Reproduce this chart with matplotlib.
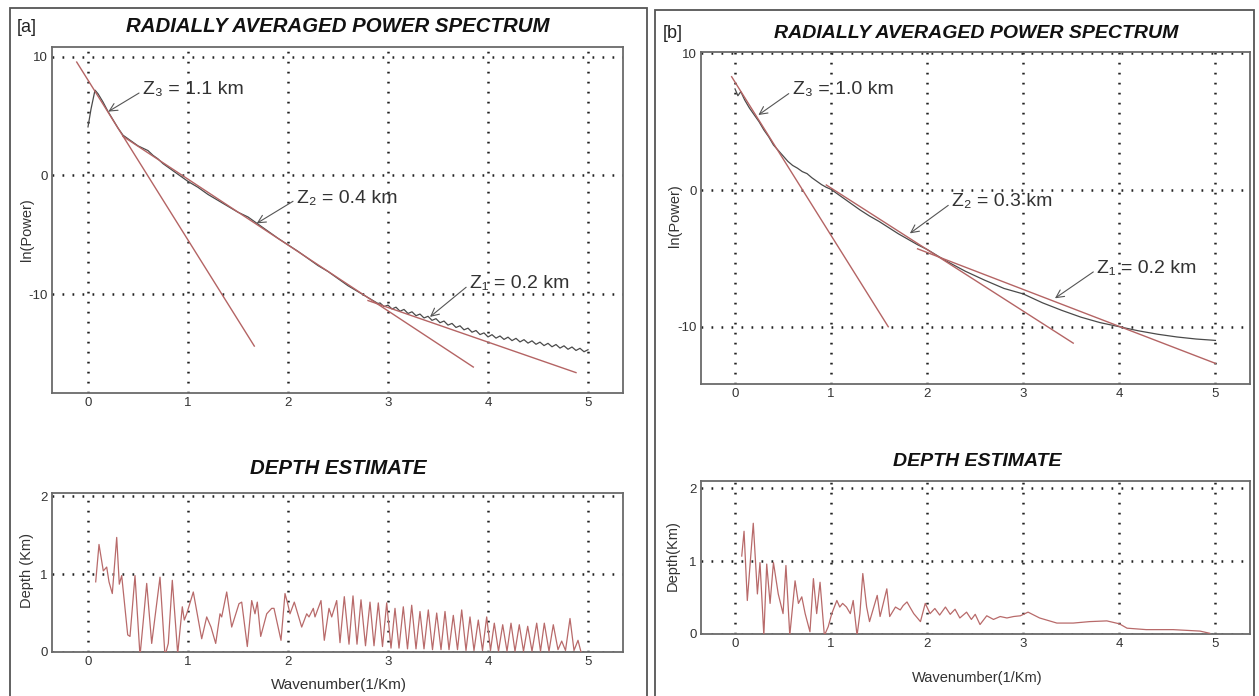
import matplotlib
matplotlib.use("Agg")
import matplotlib.pyplot as plt
from matplotlib.patches import Rectangle

plt.rcParams['font.family'] = ['Liberation Sans', 'DejaVu Sans']
plt.rcParams['axes.unicode_minus'] = False

# ---- panel [a] : radially averaged power spectrum ----
k_a = [0.00, 0.03, 0.07, 0.10, 0.15, 0.20, 0.25, 0.30, 0.35, 0.40, 0.45, 0.50,
       0.55, 0.60, 0.65, 0.70, 0.75, 0.80, 0.85, 0.90, 1.00, 1.10, 1.20, 1.30,
       1.40, 1.50, 1.60, 1.70, 1.80, 1.90, 2.00, 2.10, 2.20, 2.30, 2.40, 2.50,
       2.60, 2.70, 2.80, 2.90, 2.92, 2.96, 3.00, 3.04, 3.08, 3.12, 3.16, 3.20,
       3.24, 3.28, 3.32, 3.36, 3.40, 3.44, 3.48, 3.52, 3.56, 3.60, 3.64, 3.68,
       3.72, 3.76, 3.80, 3.84, 3.88, 3.92, 3.96, 4.00, 4.04, 4.08, 4.12, 4.16,
       4.20, 4.24, 4.28, 4.32, 4.36, 4.40, 4.44, 4.48, 4.52, 4.56, 4.60, 4.64,
       4.68, 4.72, 4.76, 4.80, 4.84, 4.88, 4.92, 4.96, 5.00]
lnp_a = [4.1, 5.6, 7.2, 6.9, 6.2, 5.4, 4.7, 4.0, 3.4, 3.1, 2.8, 2.5,
         2.3, 2.1, 1.7, 1.4, 1.0, 0.7, 0.4, 0.1, -0.5, -1.0, -1.6, -2.1,
         -2.6, -3.1, -3.5, -4.1, -4.7, -5.3, -5.85, -6.4, -7.0, -7.6, -8.1, -8.7,
         -9.3, -9.8, -10.3, -10.8, -10.75, -11.06, -10.94, -11.26, -11.11, -11.45, -11.30, -11.64,
         -11.50, -11.83, -11.69, -12.02, -11.88, -12.22, -12.08, -12.42, -12.28, -12.62, -12.48, -12.82,
         -12.68, -13.02, -12.88, -13.22, -13.08, -13.42, -13.28, -13.62, -13.43, -13.72, -13.54, -13.83,
         -13.64, -13.93, -13.74, -14.04, -13.85, -14.14, -13.95, -14.24, -14.06, -14.35, -14.16, -14.45,
         -14.26, -14.56, -14.37, -14.66, -14.47, -14.76, -14.58, -14.87, -14.70]

# straight-line fits: (k start, lnP start, k end, lnP end)
fits_a = [(-0.113, 9.57, 1.663, -14.39),
          (0.35, 3.30, 3.853, -16.16),
          (2.80, -10.55, 4.88, -16.63)]
depth_labels_a = ['Z\u2083 = 1.1 km', 'Z\u2082 = 0.4 km', 'Z\u2081 = 0.2 km']
label_pos_a = [(0.55, 7.23), (2.09, -1.90), (3.82, -9.09)]
arrow_tip_a = [(0.203, 5.39), (1.687, -4.04), (3.42, -11.93)]

k_depth_a = [0.077, 0.11, 0.153, 0.187, 0.21, 0.243, 0.287, 0.313, 0.337, 0.397,
             0.42, 0.47, 0.52, 0.55, 0.587, 0.637, 0.72, 0.77, 0.803, 0.843,
             0.897, 0.943, 0.963, 0.987, 1.053, 1.137, 1.187, 1.23, 1.277, 1.32,
             1.337, 1.387, 1.437, 1.51, 1.537, 1.593, 1.637, 1.67, 1.693, 1.727,
             1.787, 1.837, 1.86, 1.93, 1.97, 1.997, 2.02, 2.063, 2.137, 2.187,
             2.21, 2.253, 2.27, 2.33, 2.363, 2.41, 2.437, 2.487, 2.52, 2.563,
             2.61, 2.65, 2.69, 2.73, 2.775, 2.82, 2.86, 2.903, 2.945, 2.987,
             3.03, 3.07, 3.11, 3.153, 3.195, 3.237, 3.28, 3.32, 3.36, 3.403,
             3.445, 3.487, 3.53, 3.57, 3.61, 3.653, 3.695, 3.737, 3.78, 3.82,
             3.86, 3.903, 3.945, 3.987, 4.025, 4.063, 4.105, 4.147, 4.19, 4.23,
             4.27, 4.313, 4.355, 4.397, 4.44, 4.487, 4.525, 4.563, 4.61, 4.653,
             4.70, 4.737, 4.775, 4.82, 4.86, 4.90, 4.93]
depth_a = [0.90, 1.38, 1.04, 1.09, 0.90, 0.75, 1.47, 0.87, 0.98, 0.22,
           0.20, 0.98, -0.05, 0.36, 0.88, 0.11, 0.96, -0.05, 0.11, 0.92,
           -0.02, 0.58, 0.41, 0.49, 0.77, 0.17, 0.45, 0.32, 0.11, 0.49,
           0.45, 0.77, 0.32, 0.62, 0.64, 0.07, 0.66, 0.49, 0.64, 0.20,
           0.49, 0.56, 0.56, 0.15, 0.75, 0.62, 0.49, 0.64, 0.32, 0.49,
           0.45, 0.56, 0.45, 0.66, 0.15, 0.56, 0.45, 0.66, 0.12, 0.71,
           0.10, 0.72, 0.10, 0.67, 0.08, 0.64, 0.08, 0.63, 0.07, 0.63,
           0.05, 0.56, 0.05, 0.58, 0.04, 0.60, 0.04, 0.52, 0.04, 0.54,
           0.03, 0.50, 0.03, 0.52, 0.03, 0.47, 0.03, 0.54, 0.02, 0.45,
           0.02, 0.41, 0.02, 0.45, 0.02, 0.37, 0.01, 0.35, 0.01, 0.37,
           0.01, 0.35, 0.01, 0.33, 0.01, 0.37, 0.01, 0.37, 0.01, 0.35,
           0.03, 0.14, 0.02, 0.43, 0.02, 0.15, 0.00]

# ---- panel [b] ----
k_b = [0.00, 0.03, 0.06, 0.10, 0.15, 0.20, 0.25, 0.30, 0.35, 0.40, 0.45, 0.50,
       0.55, 0.60, 0.65, 0.70, 0.75, 0.80, 0.85, 0.90, 0.95, 1.00, 1.10, 1.20,
       1.30, 1.40, 1.50, 1.60, 1.70, 1.80, 1.90, 2.00, 2.20, 2.40, 2.60, 2.80,
       3.00, 3.20, 3.40, 3.60, 3.80, 4.00, 4.20, 4.40, 4.60, 4.80, 5.00]
lnp_b = [7.4, 6.9, 7.2, 6.6, 6.0, 5.5, 5.0, 4.4, 3.9, 3.3, 2.9, 2.5,
         2.1, 1.8, 1.6, 1.35, 1.2, 0.9, 0.65, 0.4, 0.2, 0.05, -0.45, -0.95,
         -1.45, -1.9, -2.3, -2.75, -3.2, -3.6, -4.0, -4.35, -5.2, -5.95, -6.6, -7.2,
         -7.6, -8.25, -8.8, -9.3, -9.7, -10.0, -10.3, -10.55, -10.75, -10.9, -11.0]

fits_b = [(-0.035, 8.29, 1.595, -10.0),
          (0.95, 0.37, 3.52, -11.2),
          (1.90, -4.30, 5.00, -12.68)]
depth_labels_b = ['Z\u2083 = 1.0 km', 'Z\u2082 = 0.3 km', 'Z\u2081 = 0.2 km']
label_pos_b = [(0.60, 7.32), (2.26, -0.85), (3.77, -5.73)]
arrow_tip_b = [(0.243, 5.49), (1.82, -3.17), (3.33, -7.92)]

k_depth_b = [0.07, 0.094, 0.128, 0.19, 0.233, 0.26, 0.30, 0.33, 0.365, 0.40,
             0.45, 0.50, 0.53, 0.57, 0.625, 0.66, 0.695, 0.73, 0.78, 0.816,
             0.85, 0.885, 0.93, 0.97, 1.007, 1.06, 1.09, 1.12, 1.16, 1.20,
             1.23, 1.27, 1.30, 1.33, 1.37, 1.40, 1.48, 1.51, 1.58, 1.61,
             1.67, 1.72, 1.75, 1.79, 1.82, 1.86, 1.93, 1.98, 2.03, 2.08,
             2.13, 2.19, 2.24, 2.29, 2.34, 2.41, 2.46, 2.50, 2.55, 2.62,
             2.69, 2.76, 2.83, 2.90, 2.97, 3.05, 3.17, 3.35, 3.52, 3.69,
             3.87, 4.00, 4.08, 4.28, 4.56, 4.84, 4.94]
depth_b = [1.07, 1.41, 0.46, 1.52, 0.55, 0.98, -0.02, 0.96, 0.42, 0.98,
           0.55, 0.28, 0.94, -0.02, 0.73, 0.42, 0.51, 0.28, 0.03, 0.76,
           0.28, 0.71, -0.02, 0.10, 0.28, 0.46, 0.37, 0.42, 0.37, 0.28,
           0.46, -0.02, 0.28, 0.83, 0.37, 0.17, 0.53, 0.24, 0.62, 0.24,
           0.37, 0.33, 0.39, 0.44, 0.37, 0.28, 0.17, 0.42, 0.28, 0.35,
           0.26, 0.37, 0.27, 0.34, 0.22, 0.30, 0.20, 0.27, 0.13, 0.25,
           0.20, 0.24, 0.22, 0.24, 0.25, 0.30, 0.22, 0.15, 0.15, 0.17,
           0.18, 0.14, 0.08, 0.06, 0.06, 0.04, 0.01]

OBS = '#4a4a4a'
FIT = '#b46464'
DEP = '#b86a6a'
TXT = '#333333'

W, H = 1259, 696
fig = plt.figure(figsize=(W / 100, H / 100), dpi=100)


def px_rect(l, t, r, b):
    return [l / W, 1 - b / H, (r - l) / W, (b - t) / H]


def style(ax, xlim, ylim, yticks):
    ax.set_xlim(*xlim)
    ax.set_ylim(*ylim)
    ax.set_xticks([0, 1, 2, 3, 4, 5])
    ax.set_yticks(yticks)
    ax.grid(True, color='#222222', linestyle=(0, (0.7, 3.3)), linewidth=1.8)
    ax.tick_params(length=0, labelsize=9.5, colors=TXT, pad=3)
    for s in ax.spines.values():
        s.set_color('#6a6a6a')
        s.set_linewidth(1.3)


def spectrum_panel(rect, k, lnp, fits, labels, lpos, tips, xlim, ylim, fs):
    ax = fig.add_axes(rect)
    style(ax, xlim, ylim, [-10, 0, 10])
    ax.plot(k, lnp, color=OBS, lw=0.9, zorder=3)
    for k0, y0, k1, y1 in fits:
        ax.plot([k0, k1], [y0, y1], color=FIT, lw=1.0, zorder=4)
    for txt, p, tip in zip(labels, lpos, tips):
        ax.annotate(txt, xy=tip, xytext=p, ha='left', va='center',
                    fontsize=fs, color=TXT, zorder=5,
                    arrowprops=dict(arrowstyle='->', color='#555555', lw=0.8,
                                    relpos=(0, 0.45), shrinkA=1, shrinkB=0))
    return ax


def depth_panel(rect, k, d, xlim, ylim):
    ax = fig.add_axes(rect)
    style(ax, xlim, ylim, [0, 1, 2])
    ax.plot(k, d, color=DEP, lw=0.9, zorder=3)
    return ax


# outer frames of the two panels
fig.patches.append(Rectangle((10 / W, -0.05), 637 / W, 1 - 8 / H + 0.05,
                             transform=fig.transFigure, fill=False,
                             edgecolor='#555555', lw=1.3))
fig.patches.append(Rectangle((655 / W, -0.05), 599 / W, 1 - 10 / H + 0.05,
                             transform=fig.transFigure, fill=False,
                             edgecolor='#555555', lw=1.3))

spectrum_panel(px_rect(52, 47, 623, 393), k_a, lnp_a, fits_a, depth_labels_a,
               label_pos_a, arrow_tip_a, (-0.36, 5.35), (-18.35, 10.84), 14)
depth_panel(px_rect(52, 493, 623, 652), k_depth_a, depth_a, (-0.36, 5.35), (0, 2.04))

spectrum_panel(px_rect(701, 52, 1250, 384), k_b, lnp_b, fits_b, depth_labels_b,
               label_pos_b, arrow_tip_b, (-0.354, 5.36), (-14.19, 10.1), 14)
depth_panel(px_rect(701, 481, 1250, 634), k_depth_b, depth_b, (-0.354, 5.36), (0, 2.1))


def ftext(x, y, s, **kw):
    fig.text(x / W, 1 - y / H, s, **kw)


title_kw = dict(ha='center', va='center', fontweight='bold', fontstyle='italic', color='#111111')
ftext(338, 26, 'RADIALLY AVERAGED POWER SPECTRUM', fontsize=14.7, **title_kw)
ftext(338, 469, 'DEPTH ESTIMATE', fontsize=14.7, **title_kw)
ftext(976, 34, 'RADIALLY AVERAGED POWER SPECTRUM', fontsize=14, **title_kw)
ftext(977, 461, 'DEPTH ESTIMATE', fontsize=14, **title_kw)

ftext(27, 27, '[a]', fontsize=13, ha='center', va='center', color='#222222')
ftext(673, 33, '[b]', fontsize=13, ha='center', va='center', color='#222222')

ftext(27, 230, 'ln(Power)', fontsize=10.5, rotation=90, ha='center', va='center', color=TXT)
ftext(27, 571, 'Depth (Km)', fontsize=10.5, rotation=90, ha='center', va='center', color=TXT)
ftext(675, 216, 'ln(Power)', fontsize=10.5, rotation=90, ha='center', va='center', color=TXT)
ftext(673, 556, 'Depth(Km)', fontsize=10.5, rotation=90, ha='center', va='center', color=TXT)

ftext(339, 685, 'Wavenumber(1/Km)', fontsize=11, ha='center', va='center', color=TXT)
ftext(977, 678, 'Wavenumber(1/Km)', fontsize=10.5, ha='center', va='center', color=TXT)

fig.savefig('out.png', dpi=100)
